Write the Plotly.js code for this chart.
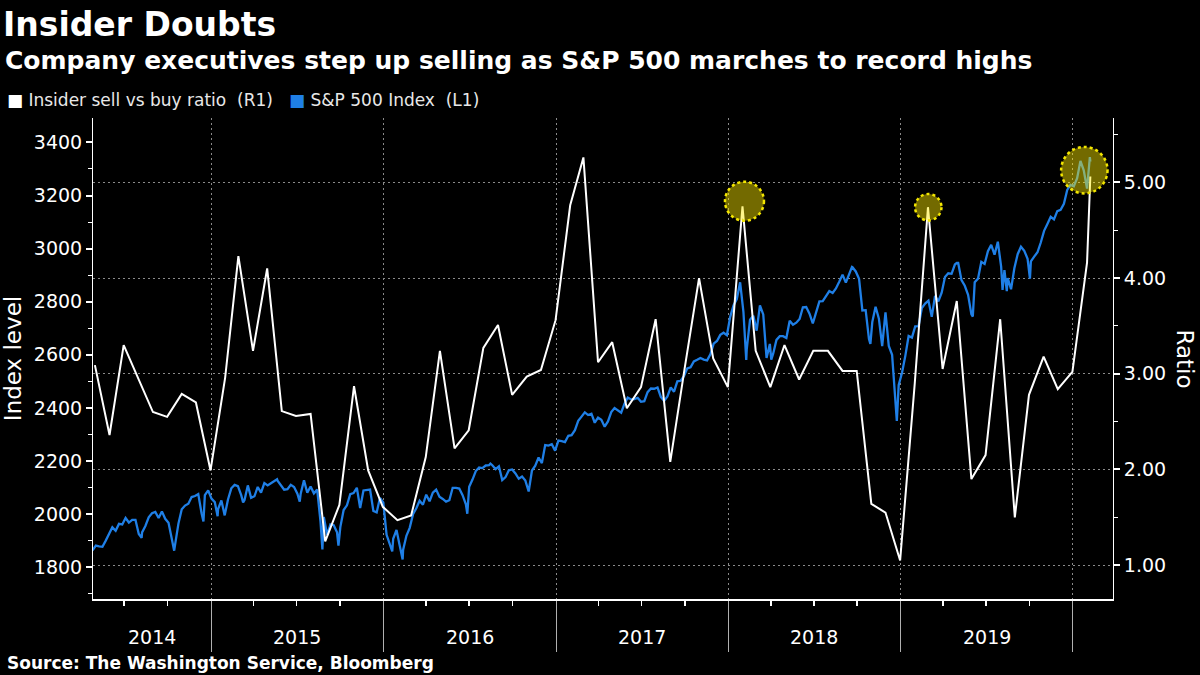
<!DOCTYPE html>
<html><head><meta charset="utf-8">
<script src="https://cdn.plot.ly/plotly-3.0.1.min.js"></script>
<style>html,body{margin:0;padding:0;background:#000;} #chart{width:1200px;height:675px;}</style>
</head><body><div id="chart"></div>
<script>
// ---------- DATA ----------
// S&P 500 weekly closes (Fridays), starting 2014-04-25
const spxWeekStart = '2014-04-25';
const spx2014 = [1863,1881,1878,1877,1900,1924,1950,1937,1963,1961,1985,1968,1978,1978,1925,1931,1955,1988,2003,2008,1985,2010,1982,1967,1906,1886,1964,2018,2032,2039,2064,2068,2075,2003,2071,2089];
const spx2015 = [2058,2045,2019,2051,1995,2055,2097,2110,2105,2071,2053,2108,2061,2067,2102,2081,2117,2108,2116,2123,2126,2107,2092,2094,2110,2102,2077,2077,2127,2080,2104,2078,2092,1971,1989,1921,1961,1958,1931,1951,2015,2033,2075,2079,2099,2023,2089,2090,2092,2012,2006,2061];
const spx2016 = [2044,1922,1880,1907,1940,1880,1865,1918,1948,1999,2022,2050,2035,2073,2048,2081,2092,2065,2057,2047,2052,2099,2099,2096,2071,2037,2103,2130,2162,2175,2173,2183,2184,2184,2169,2180,2128,2139,2165,2168,2153,2133,2141,2126,2085,2164,2182,2213,2192,2260,2258,2263,2239];
const spx2017 = [2277,2275,2271,2295,2297,2316,2351,2367,2383,2373,2378,2344,2363,2355,2329,2349,2384,2399,2391,2382,2416,2439,2432,2433,2438,2423,2425,2459,2473,2472,2477,2441,2426,2443,2477,2461,2500,2502,2519,2549,2553,2575,2581,2588,2582,2579,2602,2642,2652,2675,2683,2674];
const spx2018 = [2743,2786,2810,2873,2762,2620,2732,2747,2691,2786,2752,2588,2641,2604,2656,2670,2670,2663,2728,2713,2721,2735,2779,2780,2755,2718,2760,2801,2802,2819,2840,2833,2850,2875,2902,2872,2905,2930,2914,2886,2767,2768,2659,2723,2781,2736,2633,2760,2633,2600,2417,2486];
const spx2019 = [2532,2596,2671,2665,2707,2708,2776,2793,2804,2743,2822,2801,2834,2893,2907,2905,2940,2946,2881,2860,2826,2752,2873,2887,2950,2942,2990,3014,2977,3026,2932,2919,2889,2847,2926,2979,3007,2992,2962,2952,2970,2986,3023,3067,3093,3120,3110,3141,3146,3169,3221,3240];
const spx2020 = [3235,3265,3330,3295,3226,3328];
// Notable daily closes between the weekly points
const spxDailyDates = ['2014-08-07','2014-10-15','2014-12-16','2015-01-15','2015-03-10','2015-05-21','2015-07-08','2015-08-25','2015-09-28','2016-01-20','2016-02-11','2016-06-27','2016-08-15','2018-02-08','2018-04-02','2018-09-20','2018-10-29','2018-12-24','2019-04-30','2019-06-03','2019-08-05','2019-08-14','2019-10-02','2020-02-06'];
const spxDailyValues = [1910,1862,1972,1992,2044,2131,2047,1867,1881,1859,1829,2001,2190,2581,2582,2931,2641,2351,2946,2744,2844,2840,2887,3345];

// Insider sell vs buy ratio, monthly (month ends from Apr 2014), last point early Feb 2020
const ratioStartYear = 2014, ratioStartMonth = 4;
const ratioValues = [
  3.09,2.36,3.30,2.95,2.60,2.55,2.79,2.70,1.99,
  2.96,4.23,3.24,4.10,2.61,2.56,2.58,1.25,1.63,2.87,1.99,1.61,
  1.47,1.52,2.13,3.24,2.22,2.41,3.27,3.51,2.78,2.97,3.04,3.56,
  4.76,5.26,3.12,3.33,2.64,2.86,3.57,2.08,3.04,4.00,3.16,2.86,
  4.75,3.24,2.86,3.30,2.94,3.24,3.24,3.03,3.03,1.64,1.55,1.05,
  2.90,4.74,3.05,3.76,1.90,2.15,3.57,1.50,2.78,3.18,2.84,3.02,
  4.16,5.06];
const ratioLastDate = '2020-02-07';

const yearLabels = ['2014','2015','2016','2017','2018','2019'];
const yearLabelDates = ['2014-08-29','2015-07-02','2016-07-02','2017-07-02','2018-07-02','2019-07-02'];
const highlightDates = ['2018-01-31','2019-02-28','2020-02-07'];

// ---------- BUILD ----------
function addDays(iso, n){ const d = new Date(iso+'T00:00:00Z'); d.setUTCDate(d.getUTCDate()+n); return d.toISOString().slice(0,10); }
const spxWeekly = [].concat(spx2014, spx2015, spx2016, spx2017, spx2018, spx2019, spx2020);
let spxPts = spxWeekly.map((v,i)=>[addDays(spxWeekStart, 7*i), v]);
spxDailyDates.forEach((d,i)=>spxPts.push([d, spxDailyValues[i]]));
spxPts.sort((a,b)=> a[0] < b[0] ? -1 : a[0] > b[0] ? 1 : 0);
const spxDates = spxPts.map(p=>p[0]);
const spxValues = spxPts.map(p=>p[1]);

const ratioDates = [];
for (let i = 0; i < ratioValues.length - 1; i++) {
  const mm = ratioStartMonth - 1 + i;
  const y = ratioStartYear + Math.floor(mm/12), m = mm % 12 + 1;
  ratioDates.push(new Date(Date.UTC(y, m, 0)).toISOString().slice(0,10));
}
ratioDates.push(ratioLastDate);

const FONT = 'DejaVu Sans';
const xRange = ['2014-04-26','2020-03-26'];

const traces = [
  {x: spxDates, y: spxValues, type:'scatter', mode:'lines', name:'S&P 500 Index (L1)',
   line:{color:'#1f7fe6', width:2.3}, yaxis:'y', xaxis:'x', showlegend:false, hoverinfo:'skip'},
  {x: ratioDates, y: ratioValues, type:'scatter', mode:'lines', name:'Insider sell vs buy ratio (R1)',
   line:{color:'#ffffff', width:2}, yaxis:'y2', xaxis:'x', showlegend:false, hoverinfo:'skip'}
];

// highlight circles (pixel-sized, anchored on ratio points)
const circleSpecs = [
  {r:19.5, dx:2, dy:5},
  {r:13.2, dx:0.3, dy:0},
  {r:23.2, dx:-6, dy:6.4}
];
const shapes = highlightDates.map((d,i)=>{
  const idx = ratioDates.indexOf(d);
  const c = circleSpecs[i];
  return {type:'circle', layer:'above', xref:'x', yref:'y2', xsizemode:'pixel', ysizemode:'pixel',
    xanchor: ratioDates[idx], yanchor: ratioValues[idx],
    x0: c.dx - c.r, x1: c.dx + c.r, y0: c.dy - c.r, y1: c.dy + c.r,
    fillcolor:'rgba(255,234,0,0.45)', line:{color:'#f3e600', width:2.5, dash:'dot'}};
});

const L = 93, R = 1113, T = 118, B = 599;
const pw = R - L, ph = B - T;
const px = v => (v - L)/pw, py = v => (B - v)/ph;

const yearAnnotations = yearLabels.map((t,i)=>({
  text:t, xref:'x', yref:'paper', x:yearLabelDates[i], xanchor:'center', y:py(637), yanchor:'middle',
  showarrow:false, font:{family:FONT, size:19, color:'#ffffff'}}));

const layout = {
  width:1200, height:675,
  paper_bgcolor:'#000', plot_bgcolor:'#000',
  margin:{l:L, r:1200-R, t:T, b:675-B, pad:0},
  showlegend:false,
  font:{family:FONT, color:'#ffffff'},
  title:{text:'Insider Doubts', xref:'container', yref:'container', x:3/1200, xanchor:'left', y:1-24/675, yanchor:'middle',
    font:{family:FONT, size:33, weight:'bold', color:'#ffffff'}},
  xaxis:{type:'date', range:xRange, showgrid:true, gridcolor:'#8a8a8a', griddash:'2px,3px', gridwidth:1,
    tick0:'2015-01-01', dtick:'M12', ticks:'outside', ticklen:51, tickcolor:'#b0b0b0', tickwidth:1,
    showticklabels:false, showline:true, linecolor:'#ffffff', linewidth:1.5, zeroline:false,
    minor:{tick0:'2014-01-01', dtick:'M3', ticks:'outside', ticklen:5, tickcolor:'#ffffff', tickwidth:1.5, showgrid:false}},
  yaxis:{range:[1680,3492], tick0:0, dtick:200, showgrid:false, zeroline:false,
    ticks:'outside', ticklen:6, tickwidth:2, tickcolor:'#ffffff',
    showline:true, linecolor:'#ffffff', linewidth:1,
    tickfont:{family:FONT, size:19, color:'#ffffff'},
    title:{text:'Index level', font:{family:FONT, size:23, color:'#ffffff'}, standoff:8},
    minor:{dtick:100, ticks:'outside', ticklen:4, tickcolor:'#ffffff', tickwidth:1, showgrid:false}},
  yaxis2:{range:[0.647,5.672], overlaying:'y', side:'right', tick0:0, dtick:1, tickformat:'.2f',
    showgrid:true, gridcolor:'#8a8a8a', griddash:'2px,3px', gridwidth:1, zeroline:false,
    ticks:'outside', ticklen:6, tickwidth:2, tickcolor:'#ffffff',
    showline:true, linecolor:'#ffffff', linewidth:1,
    tickfont:{family:FONT, size:19, color:'#ffffff'},
    minor:{dtick:0.5, ticks:'outside', ticklen:4, tickcolor:'#ffffff', tickwidth:1, showgrid:false}},
  shapes: shapes,
  annotations:[
    {text:'Company executives step up selling as S&P 500 marches to record highs', xref:'paper', yref:'paper',
     x:px(3), xanchor:'left', y:py(60), yanchor:'middle', showarrow:false,
     font:{family:FONT, size:25, weight:'bold', color:'#ffffff'}},
    {text:'<span style="color:#ffffff">\u25A0</span> Insider sell vs buy ratio\u00a0\u00a0(R1)\u00a0\u00a0 <span style="color:#1f7fe6">\u25A0</span> S&P 500 Index\u00a0\u00a0(L1)',
     xref:'paper', yref:'paper', x:px(5), xanchor:'left', y:py(100), yanchor:'middle', showarrow:false,
     font:{family:FONT, size:17, color:'#e8e8e8'}},
    {text:'Ratio', xref:'paper', yref:'paper', x:px(1185), xanchor:'center', y:0.5, yanchor:'middle', textangle:90,
     showarrow:false, font:{family:FONT, size:23, color:'#ffffff'}},
    {text:'Source: The Washington Service, Bloomberg', xref:'paper', yref:'paper', x:px(5), xanchor:'left', y:py(663), yanchor:'middle',
     showarrow:false, font:{family:FONT, size:17, weight:'bold', color:'#ffffff'}}
  ].concat(yearAnnotations)
};

Plotly.newPlot('chart', traces, layout, {displayModeBar:false, staticPlot:true});
</script>
</body></html>
